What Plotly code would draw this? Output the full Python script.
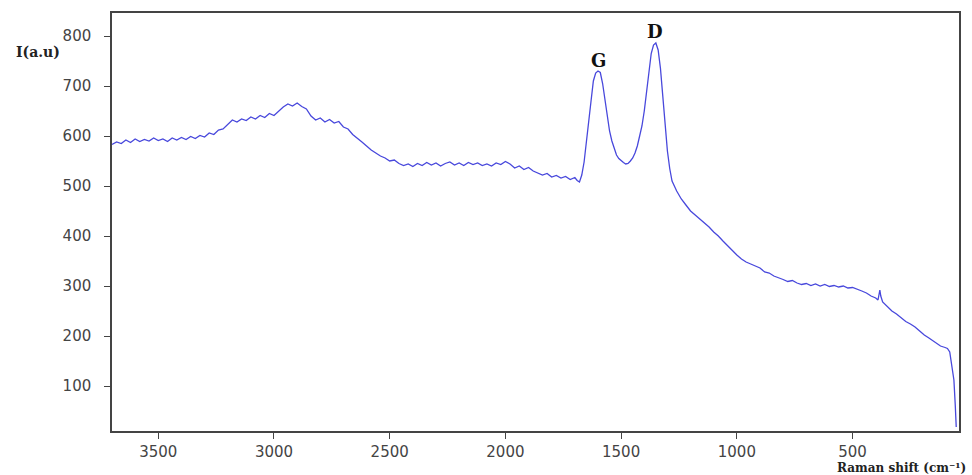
import plotly.graph_objects as go

# Raman shift (cm^-1) and intensity (a.u.)
shift = [3700, 3680, 3660, 3640, 3620, 3600, 3580, 3560, 3540, 3520, 3500, 3480, 3460, 3440,
         3420, 3400, 3380, 3360, 3340, 3320, 3300, 3280, 3260, 3240, 3220, 3200, 3180, 3160,
         3140, 3120, 3100, 3080, 3060, 3040, 3020, 3000, 2980, 2960, 2940, 2920, 2900, 2880,
         2860, 2840, 2820, 2800, 2780, 2760, 2740, 2720, 2700, 2680, 2660, 2640, 2620, 2600,
         2580, 2560, 2540, 2520, 2500, 2480, 2460, 2440, 2420, 2400, 2380, 2360, 2340, 2320,
         2300, 2280, 2260, 2240, 2220, 2200, 2180, 2160, 2140, 2120, 2100, 2080, 2060, 2040,
         2020, 2000, 1980, 1960, 1940, 1920, 1900, 1880, 1860, 1840, 1820, 1800, 1780, 1760,
         1740, 1720, 1700, 1690, 1680, 1670, 1660, 1650, 1640, 1630, 1620, 1610, 1600, 1590,
         1580, 1570, 1560, 1550, 1540, 1530, 1520, 1510, 1500, 1490, 1480, 1470, 1460, 1450,
         1440, 1430, 1420, 1410, 1400, 1390, 1380, 1370, 1360, 1350, 1340, 1330, 1320, 1310,
         1300, 1290, 1280, 1260, 1240, 1220, 1200, 1180, 1160, 1140, 1120, 1100, 1080, 1060,
         1040, 1020, 1000, 980, 960, 940, 920, 900, 880, 860, 840, 820, 800, 780,
         760, 740, 720, 700, 680, 660, 640, 620, 600, 580, 560, 540, 520, 500,
         480, 460, 440, 420, 400, 390, 382, 378, 370, 350, 330, 310, 290, 270,
         250, 230, 210, 190, 170, 150, 135, 120, 100, 90, 80, 70, 62, 56, 52]

intensity = [583, 588, 585, 592, 587, 594, 589, 593, 590, 596, 591, 594, 589, 596,
             592, 597, 593, 599, 595, 601, 598, 606, 603, 612, 614, 624, 632, 628,
             634, 631, 638, 634, 641, 637, 645, 641, 650, 658, 664, 660, 666, 659,
             654, 640, 632, 636, 628, 633, 626, 629, 618, 614, 603, 596, 588, 580,
             572, 566, 560, 556, 550, 552, 545, 541, 544, 539, 545, 541, 547, 542,
             546, 540, 545, 548, 542, 546, 541, 547, 543, 546, 541, 544, 540, 546,
             543, 549, 544, 536, 540, 533, 537, 530, 526, 522, 525, 518, 521, 516,
             519, 513, 517, 511, 508, 522, 548, 585, 625, 670, 710, 726, 730, 727,
             705, 672, 640, 610, 590, 575, 562, 555, 550, 547, 544, 545, 550, 556,
             566, 580, 600, 620, 650, 690, 730, 765, 782, 786, 772, 735, 680, 620,
             570, 535, 510, 490, 474, 462, 450, 442, 434, 426, 418, 408, 400, 390,
             380, 370, 362, 354, 348, 344, 340, 336, 328, 326, 320, 317, 313, 309,
             311, 306, 303, 305, 301, 304, 300, 303, 299, 301, 298, 300, 296, 297,
             294, 290, 286, 280, 276, 272, 292, 280, 268, 258, 250, 244, 236, 229,
             224, 218, 210, 202, 196, 190, 184, 180, 177, 175, 168, 140, 112, 60, 18]

x_ticks = [3500, 3000, 2500, 2000, 1500, 1000, 500]
y_ticks = [100, 200, 300, 400, 500, 600, 700, 800]

peak_labels = ["G", "D"]
peak_x = [1598, 1352]
peak_y = [752, 810]

fig = go.Figure()
fig.add_trace(go.Scatter(x=shift, y=intensity, mode="lines",
                         line=dict(color="#4848dc", width=1.3),
                         showlegend=False, hoverinfo="skip"))

for lab, px, py in zip(peak_labels, peak_x, peak_y):
    fig.add_annotation(x=px, y=py, xref="x", yref="y", text="<b>%s</b>" % lab,
                       showarrow=False,
                       font=dict(family="DejaVu Serif", size=18, color="#111"))

fig.add_annotation(x=-0.087, y=0.907, xref="paper", yref="paper", text="<b>I(a.u)</b>",
                   showarrow=False, xanchor="center", yanchor="middle",
                   font=dict(family="DejaVu Serif", size=14, color="#222"))
fig.add_annotation(x=1.011, y=-0.088, xref="paper", yref="paper",
                   text="<b>Raman shift (cm⁻¹)</b>",
                   showarrow=False, xanchor="right", yanchor="middle",
                   font=dict(family="DejaVu Serif", size=12, color="#222"))

fig.update_xaxes(range=[3700, 40], tickvals=x_ticks, ticktext=[str(v) for v in x_ticks],
                 showgrid=False, zeroline=False, showline=True, linecolor="#444",
                 linewidth=1.5, mirror=True, ticks="outside", ticklen=6, tickcolor="#444",
                 tickfont=dict(family="DejaVu Sans", size=15, color="#444"),
                 ticklabelstandoff=0)
fig.update_yaxes(range=[10, 846], tickvals=y_ticks, ticktext=[str(v) for v in y_ticks],
                 showgrid=False, zeroline=False, showline=True, linecolor="#444",
                 linewidth=1.5, mirror=True, ticks="outside", ticklen=6, tickcolor="#444",
                 tickfont=dict(family="DejaVu Sans", size=15, color="#444"),
                 ticklabelstandoff=10)

fig.update_layout(width=972, height=475, margin=dict(l=112, r=11, t=13, b=44),
                  plot_bgcolor="white", paper_bgcolor="white")

fig.write_html("out.html", config={"displayModeBar": False},
               post_script="document.body.style.margin='0';document.body.style.overflow='hidden';")
